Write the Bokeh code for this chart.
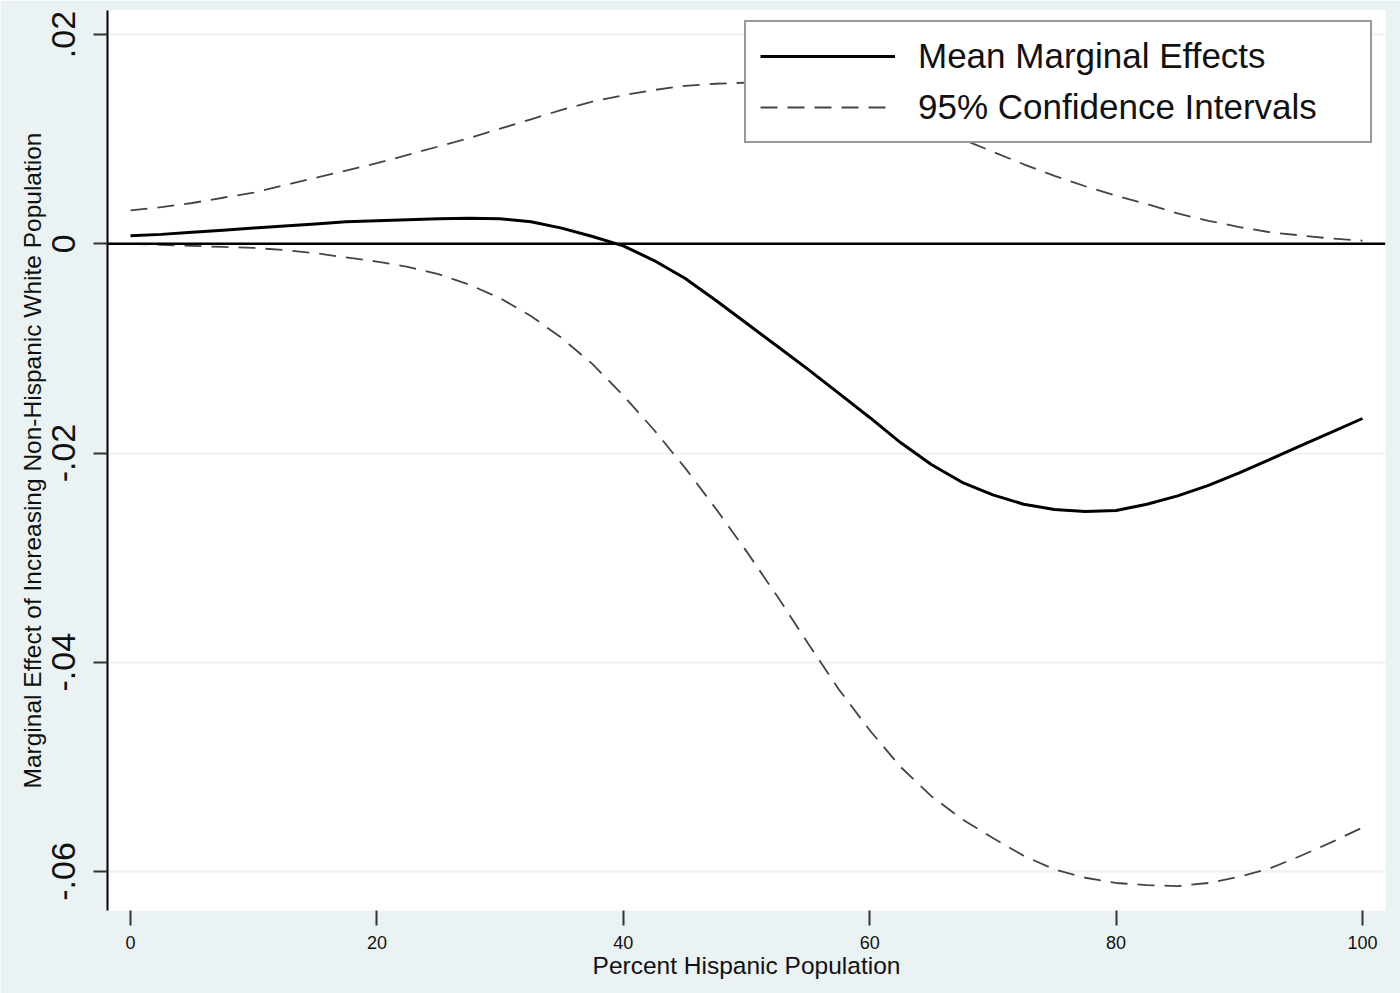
from bokeh.plotting import figure
from bokeh.models import Range1d, FixedTicker, Span, Legend, LegendItem
from bokeh.embed import file_html
from bokeh.resources import INLINE

# ---- data ----
pct_hispanic = [0, 2.5, 5, 7.5, 10, 12.5, 15, 17.5, 20, 22.5, 25, 27.5, 30, 32.5,
                35, 37.5, 40, 42.5, 45, 47.5, 50, 52.5, 55, 57.5, 60, 62.5, 65,
                67.5, 70, 72.5, 75, 77.5, 80, 82.5, 85, 87.5, 90, 92.5, 95, 97.5, 100]
mean_effect = [0.00076, 0.0009, 0.0011, 0.0013, 0.0015, 0.0017, 0.0019, 0.0021,
               0.0022, 0.0023, 0.0024, 0.00245, 0.0024, 0.0021, 0.0015, 0.0007,
               -0.0002, -0.0016, -0.0033, -0.0054, -0.0076, -0.0098, -0.0120,
               -0.0143, -0.0166, -0.0190, -0.0211, -0.0228, -0.0240, -0.0249,
               -0.0254, -0.0256, -0.0255, -0.0249, -0.0241, -0.0231, -0.0219,
               -0.0206, -0.0193, -0.0180, -0.0167]
ci_upper = [0.0032, 0.0035, 0.0039, 0.0044, 0.0049, 0.0056, 0.0063, 0.0070,
            0.0077, 0.0085, 0.0093, 0.0101, 0.0110, 0.0119, 0.0128, 0.0136,
            0.0142, 0.0147, 0.0151, 0.0153, 0.0154, 0.0153, 0.0149, 0.0143,
            0.0135, 0.0125, 0.0113, 0.0100, 0.0088, 0.0076, 0.0065, 0.0055,
            0.0046, 0.0038, 0.0029, 0.0022, 0.0016, 0.0011, 0.0008, 0.0005, 0.0003]
ci_lower = [0.0, -0.0001, -0.0002, -0.0003, -0.0004, -0.0006, -0.0009, -0.0013,
            -0.0017, -0.0022, -0.0029, -0.0039, -0.0052, -0.0069, -0.0090,
            -0.0115, -0.0145, -0.0178, -0.0214, -0.0253, -0.0294, -0.0337,
            -0.0382, -0.0426, -0.0465, -0.0500, -0.0528, -0.0550, -0.0568,
            -0.0585, -0.0598, -0.0606, -0.0611, -0.0613, -0.0614, -0.0611,
            -0.0605, -0.0597, -0.0585, -0.0572, -0.0558]

x_ticks = [0, 20, 40, 60, 80, 100]
y_ticks = [0.02, 0.0, -0.02, -0.04, -0.06]
y_tick_labels = [".02", "0", "-.02", "-.04", "-.06"]

x_title = "Percent Hispanic Population"
y_title = "Marginal Effect of Increasing Non-Hispanic White Population"
legend_labels = ["Mean Marginal Effects", "95% Confidence Intervals"]

FONT = "Liberation Sans"
BG = "#EAF2F3"

p = figure(width=1400, height=993, output_backend="svg", toolbar_location=None,
           x_range=Range1d(-1.87, 101.87), y_range=Range1d(-0.06373, 0.0223),
           min_border_left=107, min_border_right=15, min_border_top=10,
           min_border_bottom=83)
p.border_fill_color = BG
p.background_fill_color = "white"
p.outline_line_color = None

# grid
p.xgrid.grid_line_color = None
p.ygrid.ticker = FixedTicker(ticks=y_ticks)
p.ygrid.grid_line_color = BG
p.ygrid.grid_line_width = 2

# x axis
xa = p.xaxis[0]
xa.ticker = FixedTicker(ticks=x_ticks)
xa.axis_line_color = None
xa.major_tick_in = 0
xa.major_tick_out = 15
xa.major_tick_line_color = "#333333"
xa.major_tick_line_width = 2
xa.minor_tick_line_color = None
xa.major_label_text_font = FONT
xa.major_label_text_font_size = "18px"
xa.major_label_text_color = "#111111"
xa.major_label_standoff = 10
xa.axis_label = x_title
xa.axis_label_text_font = FONT
xa.axis_label_text_font_size = "24.5px"
xa.axis_label_text_font_style = "normal"
xa.axis_label_text_color = "#111111"
xa.axis_label_standoff = 0

# y axis
ya = p.yaxis[0]
ya.ticker = FixedTicker(ticks=y_ticks)
ya.major_label_overrides = {t: l for t, l in zip(y_ticks, y_tick_labels)}
ya.axis_line_color = "black"
ya.axis_line_width = 2
ya.major_tick_in = 0
ya.major_tick_out = 14
ya.major_tick_line_color = "#333333"
ya.major_tick_line_width = 2
ya.minor_tick_line_color = None
ya.major_label_orientation = "vertical"
ya.major_label_text_font = FONT
ya.major_label_text_font_size = "34px"
ya.major_label_text_color = "#111111"
ya.major_label_standoff = 18
ya.axis_label = y_title
ya.axis_label_text_font = FONT
ya.axis_label_text_font_size = "24.5px"
ya.axis_label_text_font_style = "normal"
ya.axis_label_text_color = "#111111"
ya.axis_label_standoff = 4

# zero line
p.add_layout(Span(location=0, dimension="width", line_color="black", line_width=2.5))

# series
r_up = p.line(pct_hispanic, ci_upper, line_color="#444444", line_width=1.8,
              line_dash="17 10")
r_lo = p.line(pct_hispanic, ci_lower, line_color="#444444", line_width=1.8,
              line_dash="17 10")
r_mean = p.line(pct_hispanic, mean_effect, line_color="black", line_width=3)

legend = Legend(items=[LegendItem(label=legend_labels[0], renderers=[r_mean]),
                       LegendItem(label=legend_labels[1], renderers=[r_up])],
                location=(637, 767))
legend.margin = 0
legend.padding = 14
legend.spacing = 11
legend.glyph_width = 135
legend.glyph_height = 40
legend.label_height = 40
legend.label_width = 438
legend.label_standoff = 23
legend.label_text_font = FONT
legend.label_text_font_size = "35px"
legend.label_text_color = "#111111"
legend.border_line_color = "#333333"
legend.border_line_width = 2
legend.background_fill_color = "white"
legend.background_fill_alpha = 1.0
p.add_layout(legend, "center")

open("out.html", "w").write(file_html(p, INLINE))
